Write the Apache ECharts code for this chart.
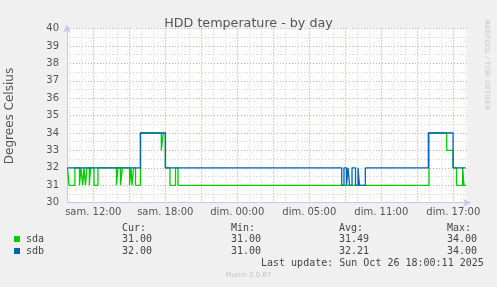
<!DOCTYPE html>
<html>
<head>
<meta charset="utf-8">
<script src="https://cdn.jsdelivr.net/npm/echarts@6/dist/echarts.min.js"></script>
<style>
html,body{margin:0;padding:0;background:#F0F0F0;}
#c{width:497px;height:287px;}
</style>
</head>
<body>
<div id="c"></div>
<script>
// Time in hours relative to "sam. 12:00"; each point = value starting at that time
const sdaHours = [-2.15,-2.03,-1.53,-1.15,-1.03,-0.88,-0.78,-0.65,-0.53,-0.33,-0.22,0.06,0.39,1.93,2.06,2.27,2.43,3.02,3.14,3.23,3.35,3.52,3.93,5.67,5.83,6.02,6.39,6.85,7.06,27.97,29.45,29.98,30.27,30.78,30.89,31.02];
const sdaTemps = [32,31,32,31,32,31,32,31,32,31,32,31,32,31,32,31,32,31,32,31,32,31,34,33,34,32,31,32,31,34,33,32,31,32,31,31];
const sdbHours = [-2.15,3.93,6.0,20.70,20.89,21.10,21.23,21.35,21.56,21.85,22.06,22.18,22.67,27.92,29.98,31.02];
const sdbTemps = [32,34,32,31,32,31,32,31,32,31,32,31,32,34,32,32];

const xMin = -2.19, xMax = 31.14;
const labelHours = [0,6,12,18,24,30];
const xTickLabels = ['sam. 12:00','sam. 18:00','dim. 00:00','dim. 05:00','dim. 11:00','dim. 17:00'];
const majorHours = [0,3,6,9,12,15,18,21,24,27,30];
const minorHours = [];
for (let h = Math.ceil(xMin); h <= xMax; h++) minorHours.push(h);

const legendRows = [
  {name:'sda', color:'#00CC00', cur:'31.00', min:'31.00', avg:'31.49', max:'34.00'},
  {name:'sdb', color:'#0066B3', cur:'32.00', min:'31.00', avg:'32.21', max:'34.00'}
];

const pairs = (xs, ys) => xs.map((x,i)=>[x, ys[i]]);
const FONT = 'DejaVu Sans';
const MONO = 'DejaVu Sans Mono';
const majorColor = '#eba9a9';
const minorColor = '#d2d2d2';
const axisColor = '#c6c6ee';

const chart = echarts.init(document.getElementById('c'), null, {renderer:'canvas'});

const cols = [122, 231, 339, 447];
const graphics = [];
['Cur:','Min:','Avg:','Max:'].forEach((t,i)=>{
  graphics.push({type:'text', left: cols[i], top: 223, style:{text:t, font:'10px "'+MONO+'"', fill:'#444'}});
});
legendRows.forEach((r,ri)=>{
  const y = 234 + ri*12;
  graphics.push({type:'rect', shape:{x:14, y:y+2, width:6, height:6}, style:{fill:r.color}});
  graphics.push({type:'text', left: 26, top: y, style:{text:r.name, font:'10px "'+MONO+'"', fill:'#444'}});
  [r.cur,r.min,r.avg,r.max].forEach((v,i)=>{
    graphics.push({type:'text', left: cols[i], top: y, style:{text:v, font:'10px "'+MONO+'"', fill:'#444'}});
  });
});
graphics.push({type:'text', left: 261, top: 258, style:{text:'Last update: Sun Oct 26 18:00:11 2025', font:'10px "'+MONO+'"', fill:'#444'}});
graphics.push({type:'text', left: 'center', top: 272, style:{text:'Munin 2.0.67', font:'7px "'+FONT+'"', fill:'#c4c4c4'}});
graphics.push({type:'text', x: 10, y: 116, rotation: Math.PI/2, style:{text:'Degrees Celsius', font:'12px "'+FONT+'"', fill:'#555', align:'center', verticalAlign:'middle'}});
graphics.push({type:'text', x: 487, y: 65, rotation: -Math.PI/2, style:{text:'RRDTOOL / TOBI OETIKER', font:'7px "'+FONT+'"', fill:'#c8c8c8', align:'center', verticalAlign:'middle'}});

const option = {
  animation: false,
  backgroundColor: '#F0F0F0',
  title: {text:'HDD temperature - by day', left:'center', top:12,
    textStyle:{fontFamily:FONT, fontSize:12.7, fontWeight:'normal', color:'#555'}},
  grid: {left:67, right:30, top:28.5, bottom:84.3, show:true, backgroundColor:'#ffffff', borderWidth:0},
  xAxis: [
    {type:'value', min:xMin, max:xMax, z:1,
      axisLine:{show:true, onZero:false, lineStyle:{color:axisColor, width:1}, symbol:['none','arrow'], symbolSize:[6,8], symbolOffset:[0,4]},
      axisTick:{show:false, customValues: majorHours},
      axisLabel:{customValues: labelHours, margin:5, fontFamily:FONT, fontSize:10, color:'#555',
        formatter: v => xTickLabels[labelHours.indexOf(Math.round(v))] || ''},
      splitLine:{show:true, lineStyle:{color:majorColor, type:[1,2], width:1}}
    },
    {type:'value', min:xMin, max:xMax, z:0, position:'bottom',
      axisLine:{show:false}, axisLabel:{show:false},
      axisTick:{show:false, customValues: minorHours},
      splitLine:{show:true, lineStyle:{color:minorColor, type:[1,2], width:1}}
    }
  ],
  yAxis: {type:'value', min:30, max:40, interval:1, z:1,
    axisLine:{show:true, onZero:false, lineStyle:{color:axisColor, width:1}, symbol:['none','arrow'], symbolSize:[6,8], symbolOffset:[0,4]},
    axisTick:{show:false},
    axisLabel:{margin:8, fontFamily:FONT, fontSize:10, color:'#555'},
    splitLine:{show:true, lineStyle:{color:majorColor, type:[1,2], width:1}},
    minorTick:{show:false, splitNumber:2},
    minorSplitLine:{show:true, lineStyle:{color:minorColor, type:[1,2], width:1}}
  },
  series: [
    {name:'sda', type:'line', step:'end', data:pairs(sdaHours, sdaTemps), symbol:'none',
      lineStyle:{color:'#00CC00', width:1.3}, z:3},
    {name:'sdb', type:'line', step:'end', data:pairs(sdbHours, sdbTemps), symbol:'none',
      lineStyle:{color:'#0066B3', width:1.3}, z:4}
  ],
  graphic: graphics
};
chart.setOption(option);
</script>
</body>
</html>
